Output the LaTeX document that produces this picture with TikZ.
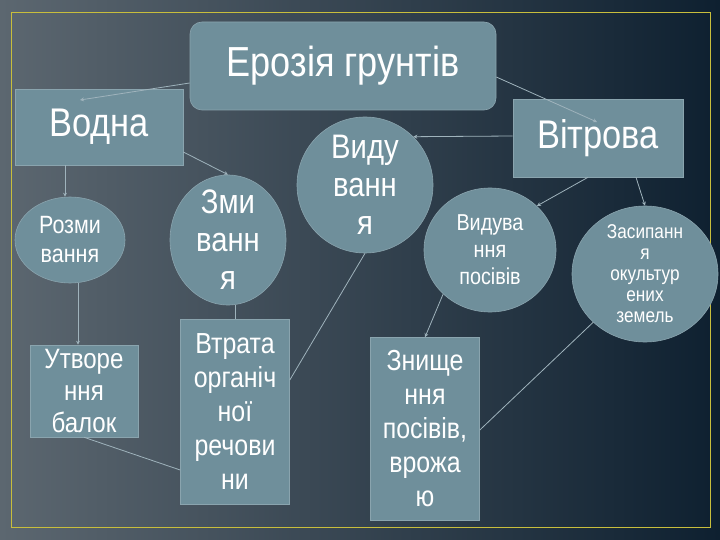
\documentclass[tikz,border=0pt]{standalone}
\usepackage{fontspec}
\setmainfont[FakeStretch=0.86]{Liberation Sans}
\usetikzlibrary{shapes.geometric,arrows.meta}
\definecolor{boxc}{HTML}{6F8F9B}
\definecolor{rimc}{HTML}{8AA4AE}
\definecolor{bgl}{HTML}{5C6770}
\definecolor{bgr}{HTML}{0E2030}
\definecolor{linec}{HTML}{9FB3BC}
\begin{document}
\begin{tikzpicture}[x=1pt,y=-1pt,
  box/.style={draw=rimc,fill=boxc,text=white,align=center,inner sep=1pt,line width=0.6pt},
  ell/.style={box,ellipse,inner sep=-10pt},
  conn/.style={draw=linec,line width=0.8pt,-{Stealth[length=4pt,width=4pt]}},
  plain/.style={draw=linec,line width=0.8pt}]
\shade[left color=bgl,right color=bgr] (0,0) rectangle (720,540);
\useasboundingbox (0,0) rectangle (720,540);
\draw[draw={rgb,255:red,200;green,190;blue,60},line width=1pt] (11,13) rectangle (710,527);
\node[box,rounded corners=12pt,minimum width=306pt,minimum height=88pt,font=\fontsize{42}{46}\selectfont] (ero) at (343,66) {Ерозія грунтів};
\node[box,minimum width=168pt,minimum height=76pt,font=\fontsize{40}{44}\selectfont] (vod) at (99,127) {Водна};
\node[box,minimum width=170pt,minimum height=78pt,font=\fontsize{40}{44}\selectfont] (vit) at (598,138) {Вітрова};
\node[ell,minimum width=110pt,minimum height=86pt,font=\fontsize{25}{29}\selectfont] (roz) at (70,240) {Розми\\вання};
\node[ell,minimum width=116pt,minimum height=130pt,font=\fontsize{34}{38}\selectfont] (zmy) at (228,240) {Зми\\ванн\\я};
\node[ell,minimum width=136pt,minimum height=136pt,font=\fontsize{34}{38}\selectfont] (vyd) at (365,185) {Виду\\ванн\\я};
\node[ell,minimum width=132pt,minimum height=124pt,font=\fontsize{23}{27}\selectfont] (vdp) at (490,250) {Видува\\ння\\посівів};
\node[ell,minimum width=146pt,minimum height=136pt,font=\fontsize{20}{21}\selectfont] (zas) at (645,274) {Засипанн\\я\\окультур\\ених\\земель};
\node[box,minimum width=108pt,minimum height=92pt,font=\fontsize{28}{32}\selectfont] (utv) at (84,391) {Утворе\\ння\\балок};
\node[box,minimum width=109pt,minimum height=185pt,font=\fontsize{29}{34}\selectfont] (vtr) at (235,412) {Втрата\\органіч\\ної\\речови\\ни};
\node[box,minimum width=109pt,minimum height=183pt,font=\fontsize{29}{34}\selectfont] (zny) at (425,429) {Знище\\ння\\посівів,\\врожа\\ю};
\coordinate (fl) at (80,100);
\coordinate (fr) at (597,122);
\draw[conn] (ero.west|-0,83) -- (fl);
\draw[conn] (ero.east|-0,77) -- (fr);
\draw[conn] (vod.south east|-0,152) -- (zmy.north);
\draw[conn] (vod.south-|65,0) -- (roz.north-|65,0);
\draw[conn] (vit.west|-0,136) -- (vyd.north east);
\draw[conn] (vit.south-|588,0) -- (vdp.north east);
\draw[conn] (vit.south-|636,0) -- (zas.north);
\draw[conn] (roz.south-|78,0) -- (utv.north-|78,0);
\draw[plain] (zmy.south-|235,0) -- (vtr.north-|235,0);
\draw[plain] (vyd.south) -- (vtr.east|-0,380);
\draw[conn] (vdp.south west) -- (zny.north);
\draw[plain] (zas.south west) -- (zny.east|-0,430);
\draw[plain] (utv.south) -- (vtr.west|-0,470);
\end{tikzpicture}
\end{document}
